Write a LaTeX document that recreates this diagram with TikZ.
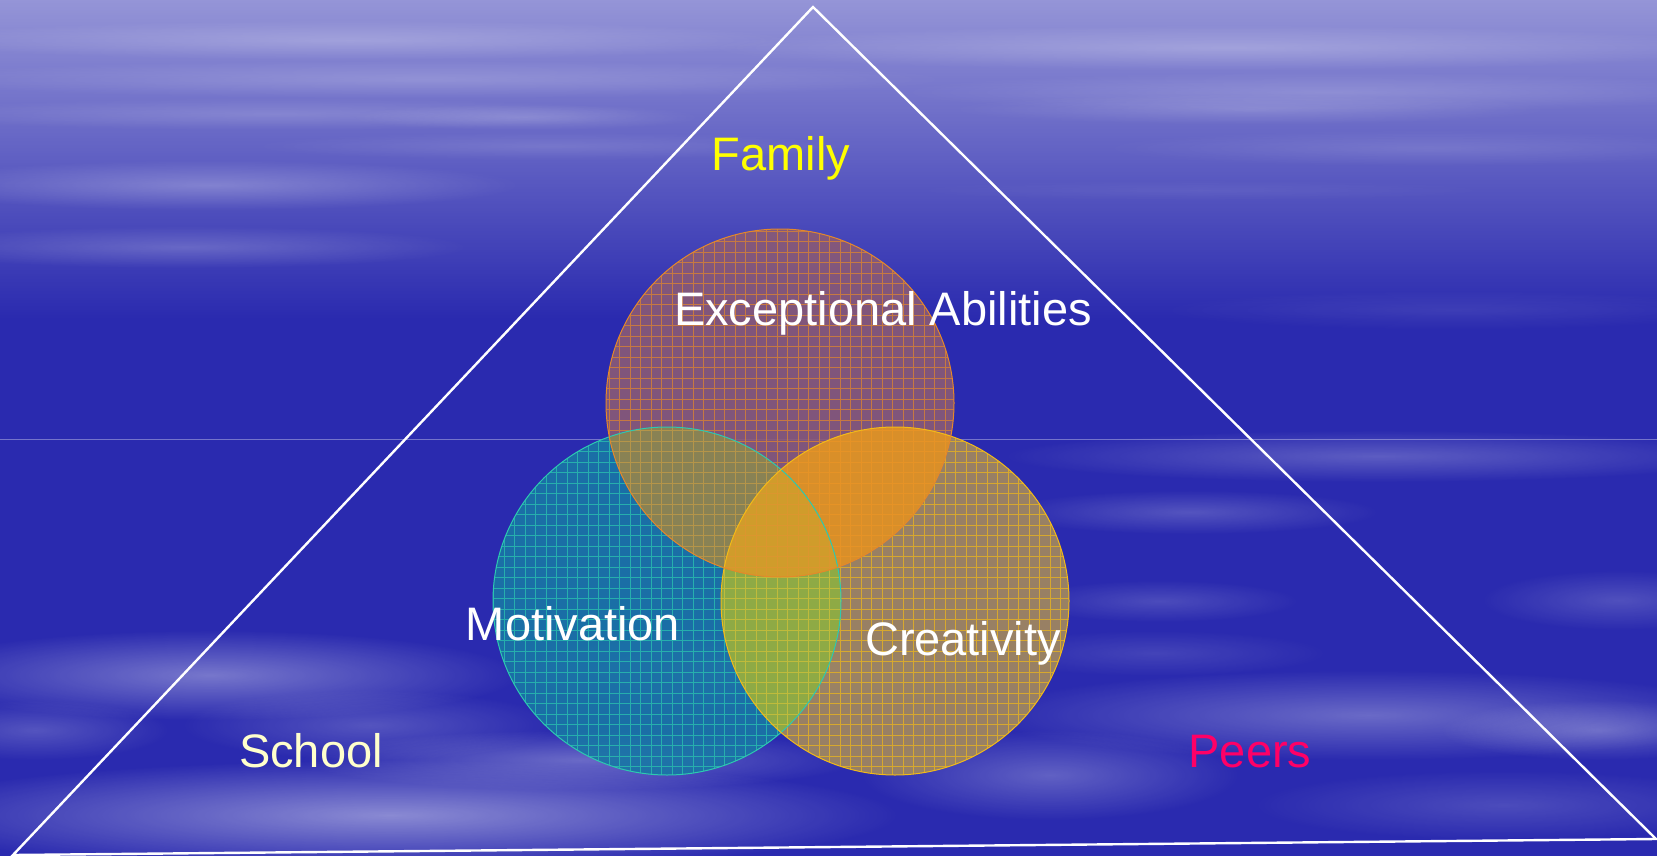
\documentclass[tikz,border=0pt]{standalone}
\usepackage{fontspec}
\setmainfont{Liberation Sans}
\usetikzlibrary{fadings}

% palette
\definecolor{bgblue}{HTML}{2A2AAF}
\definecolor{skytop}{HTML}{9C9CDA}
\definecolor{fillA}{HTML}{8A5A76}
\definecolor{fillM}{HTML}{1976A6}
\definecolor{fillC}{HTML}{A48A5C}
\definecolor{fillAM}{HTML}{8A8552}
\definecolor{fillAC}{HTML}{DE9226}
\definecolor{fillMC}{HTML}{8EAC44}
\definecolor{fillAMC}{HTML}{D49C2A}
\definecolor{gridA}{HTML}{E5882A}
\definecolor{gridM}{HTML}{2CCAB0}
\definecolor{gridC}{HTML}{F2BA18}
\definecolor{famyellow}{HTML}{FFFF00}
\definecolor{schoolcream}{HTML}{FFFFCC}
\definecolor{peerspink}{HTML}{FF0066}

\tikzfading[name=softblob, inner color=transparent!0, outer color=transparent!100]
\tikzfading[name=fadedown, top color=transparent!0, bottom color=transparent!100]

\tikzset{
  streak/.style={fill=white, fill opacity=#1, path fading=softblob},
  lab/.style={anchor=base, inner sep=0pt, font=\fontsize{47}{56}\selectfont},
  gridline/.style={draw=#1, line width=0.8pt, opacity=0.7},
  ring/.style={draw=#1, line width=1pt},
  frame/.style={draw=white, line width=2.4pt, line join=miter}
}

\begin{document}
\begin{tikzpicture}[x=1pt, y=-1pt]
\useasboundingbox (0,0) rectangle (1657,856);

% sky background
\fill[bgblue] (-20,-20) rectangle (1677,876);
\fill[skytop, path fading=fadedown] (-20,-20) rectangle (1677,320);

% cloud streaks, upper part
\foreach \xa/\ya/\xb/\yb/\op in {
  -100/20/800/60/.22, 700/25/1757/70/.24, -100/60/950/98/.18, 900/72/1757/112/.18,
  -100/98/650/130/.16, 950/94/1550/124/.16, 350/104/700/130/.16,
  -100/160/520/210/.26, -100/226/470/268/.20, 1100/130/1757/166/.12,
  250/132/850/160/.12, 1150/290/1757/330/.08, 900/180/1500/200/.06}
  \fill[streak=\op] (\xa,\ya) rectangle (\xb,\yb);

% cloud streaks, lower part
\foreach \xa/\ya/\xb/\yb/\op in {
  1000/430/1757/482/.24, 1000/490/1380/534/.20, 1020/580/1300/622/.16,
  1480/570/1757/630/.18, -100/630/520/720/.36, -100/700/170/760/.20,
  300/730/860/790/.30, -120/760/900/870/.45, 980/670/1757/760/.30,
  1440/700/1757/760/.26, 860/730/1240/820/.26, 1250/770/1757/840/.16,
  980/630/1330/676/.12, 500/630/1020/712/.18, 180/690/560/760/.20}
  \fill[streak=\op] (\xa,\ya) rectangle (\xb,\yb);

% horizon seam
\draw[white, opacity=.35, line width=1pt] (0,439) -- (1657,439);

% circle centres
\coordinate (cA) at (780,403);
\coordinate (cM) at (667,601);
\coordinate (cC) at (895,601);
\def\R{174}

% circle fills
\fill[fillM, fill opacity=.9] (cM) circle[radius=\R];
\fill[fillC, fill opacity=.9] (cC) circle[radius=\R];
\fill[fillA, fill opacity=.9] (cA) circle[radius=\R];
% overlaps
\begin{scope}
  \clip (cA) circle[radius=\R];
  \fill[fillAM, fill opacity=.95] (cM) circle[radius=\R];
\end{scope}
\begin{scope}
  \clip (cA) circle[radius=\R];
  \fill[fillAC, fill opacity=.95] (cC) circle[radius=\R];
\end{scope}
\begin{scope}
  \clip (cM) circle[radius=\R];
  \fill[fillMC, fill opacity=.95] (cC) circle[radius=\R];
\end{scope}
\begin{scope}
  \clip (cA) circle[radius=\R];
  \clip (cM) circle[radius=\R];
  \fill[fillAMC, fill opacity=.95] (cC) circle[radius=\R];
\end{scope}

% grid texture
\begin{scope}
  \clip (cM) circle[radius=\R];
  \draw[gridline=gridM] (480,410) grid[xstep=10.5pt, ystep=10.5pt] (860,790);
\end{scope}
\begin{scope}
  \clip (cC) circle[radius=\R];
  \draw[gridline=gridC] (700,410) grid[xstep=10.5pt, ystep=10.5pt] (1090,790);
\end{scope}
\begin{scope}
  \clip (cA) circle[radius=\R];
  \draw[gridline=gridA] (590,220) grid[xstep=10.5pt, ystep=10.5pt] (970,590);
\end{scope}

% circle outlines
\draw[ring=gridM] (cM) circle[radius=\R];
\draw[ring=gridC] (cC) circle[radius=\R];
\draw[ring=gridA] (cA) circle[radius=\R];

% surrounding triangle
\coordinate (apex) at (813,7);
\coordinate (bl) at (13,855);
\coordinate (br) at (1656,839);
\draw[frame] (apex) -- (bl) -- (br) -- cycle;

% labels
\node[lab, text=famyellow] (family) at (781,171) {Family};
\node[lab, text=white] (abilities) at (883,325) {Exceptional Abilities};
\node[lab, text=white] (motivation) at (573,640) {Motivation};
\node[lab, text=white] (creativity) at (963,655) {Creativity};
\node[lab, text=schoolcream] (school) at (311,767) {School};
\node[lab, text=peerspink] (peers) at (1250,767) {Peers};
\end{tikzpicture}
\end{document}
